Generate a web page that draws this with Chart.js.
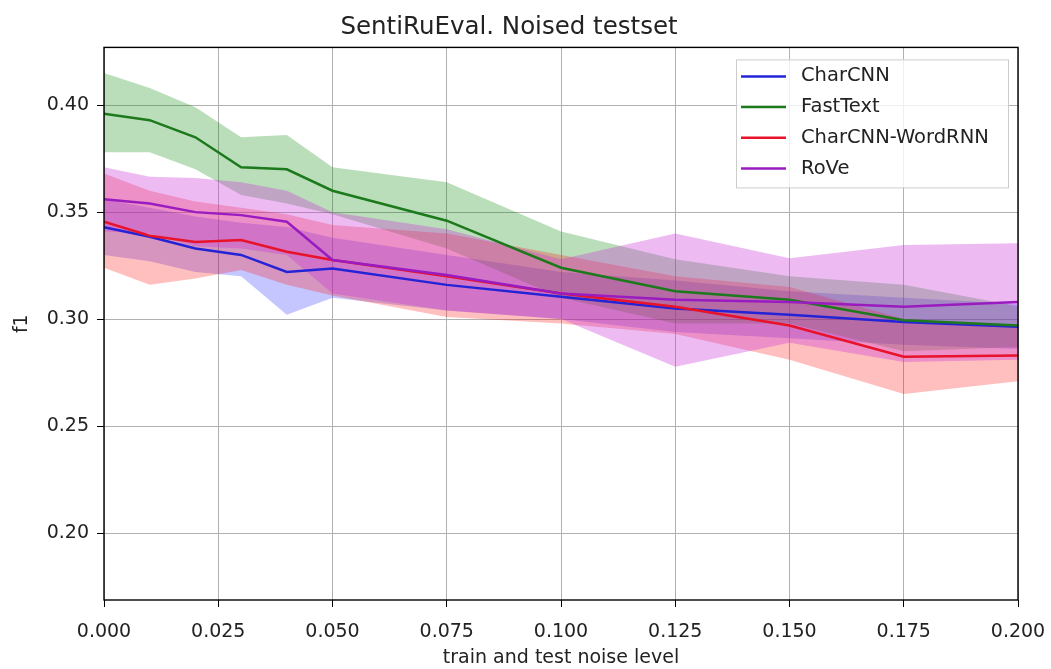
<!DOCTYPE html>
<html lang="en">
<head>
    <meta charset="UTF-8">
    <title>SentiRuEval. Noised testset</title>
    <script src="https://cdn.jsdelivr.net/npm/chart.js"></script>
    <style>
        html, body { margin: 0; padding: 0; background: #fff; }
        #wrap { width: 1051px; height: 669px; }
    </style>
</head>
<body>
    <div id="wrap"><canvas id="noiseChart"></canvas></div>

    <script>
        // noise level on x
        const noise = [0, 0.01, 0.02, 0.03, 0.04, 0.05, 0.075, 0.1, 0.125, 0.15, 0.175, 0.2];
        const xTicks = [0, 0.025, 0.05, 0.075, 0.1, 0.125, 0.15, 0.175, 0.2];
        const yTicks = [0.20, 0.25, 0.30, 0.35, 0.40];

        const charcnnMean  = [0.343, 0.3385, 0.333, 0.330, 0.322, 0.3237, 0.316, 0.3104, 0.305, 0.302, 0.2987, 0.2964];
        const charcnnUpper = [0.356, 0.352, 0.348, 0.345, 0.343, 0.338, 0.330, 0.322, 0.318, 0.313, 0.310, 0.307];
        const charcnnLower = [0.330, 0.327, 0.322, 0.320, 0.302, 0.310, 0.304, 0.300, 0.294, 0.291, 0.288, 0.286];

        const fasttextMean  = [0.396, 0.393, 0.385, 0.371, 0.370, 0.360, 0.346, 0.324, 0.313, 0.309, 0.2995, 0.297];
        const fasttextUpper = [0.415, 0.408, 0.399, 0.385, 0.386, 0.371, 0.364, 0.341, 0.328, 0.320, 0.316, 0.306];
        const fasttextLower = [0.378, 0.378, 0.370, 0.358, 0.354, 0.349, 0.333, 0.310, 0.298, 0.298, 0.285, 0.287];

        const wordrnnMean  = [0.3455, 0.339, 0.336, 0.337, 0.3315, 0.3276, 0.320, 0.312, 0.3058, 0.297, 0.2824, 0.283];
        const wordrnnUpper = [0.368, 0.360, 0.355, 0.352, 0.349, 0.344, 0.340, 0.330, 0.320, 0.315, 0.300, 0.297];
        const wordrnnLower = [0.324, 0.316, 0.319, 0.323, 0.316, 0.311, 0.301, 0.298, 0.293, 0.281, 0.265, 0.271];

        const roveMean  = [0.356, 0.354, 0.350, 0.3486, 0.3455, 0.3276, 0.3206, 0.312, 0.309, 0.308, 0.3058, 0.308];
        const roveUpper = [0.371, 0.3665, 0.366, 0.364, 0.360, 0.350, 0.342, 0.328, 0.340, 0.3285, 0.3346, 0.3355];
        const roveLower = [0.341, 0.340, 0.334, 0.333, 0.330, 0.312, 0.304, 0.300, 0.2777, 0.289, 0.280, 0.281];

        const series = [
            { name: 'CharCNN', mean: charcnnMean, upper: charcnnUpper, lower: charcnnLower, line: '#2424d6', band: 'rgba(40, 40, 255, 0.27)' },
            { name: 'FastText', mean: fasttextMean, upper: fasttextUpper, lower: fasttextLower, line: '#1c7a1c', band: 'rgba(0, 128, 0, 0.27)' },
            { name: 'CharCNN-WordRNN', mean: wordrnnMean, upper: wordrnnUpper, lower: wordrnnLower, line: '#e8122a', band: 'rgba(255, 20, 20, 0.27)' },
            { name: 'RoVe', mean: roveMean, upper: roveUpper, lower: roveLower, line: '#9a1cc0', band: 'rgba(200, 50, 215, 0.33)' }
        ];

        const pts = arr => arr.map((v, i) => ({ x: noise[i], y: v }));

        // bands first (under), later models on top; mean lines above all bands
        const datasets = [];
        series.forEach((s, i) => {
            datasets.push({ label: s.name + ' lo', data: pts(s.lower), borderWidth: 0, pointRadius: 0, fill: false, order: 20 - i });
            datasets.push({ label: s.name + ' hi', data: pts(s.upper), borderWidth: 0, pointRadius: 0, fill: '-1', backgroundColor: s.band, order: 20 - i });
        });
        series.forEach((s, i) => {
            datasets.push({ label: s.name, data: pts(s.mean), borderColor: s.line, borderWidth: 2.5, pointRadius: 0, fill: false, tension: 0, order: 5 - i });
        });

        // box round the plot area
        const frame = {
            id: 'frame',
            afterDatasetsDraw(chart) {
                const a = chart.chartArea, c = chart.ctx;
                c.save();
                c.strokeStyle = '#000';
                c.lineWidth = 1.4;
                c.strokeRect(a.left, a.top, a.right - a.left, a.bottom - a.top);
                c.restore();
            }
        };

        // matplotlib-like legend in upper right
        const boxLegend = {
            id: 'boxLegend',
            afterDraw(chart) {
                const a = chart.chartArea, c = chart.ctx;
                const w = 272, h = 128;
                const x0 = a.right - 10 - w, y0 = a.top + 12;
                c.save();
                c.fillStyle = 'rgba(255,255,255,0.8)';
                c.strokeStyle = '#cccccc';
                c.lineWidth = 1;
                c.fillRect(x0, y0, w, h);
                c.strokeRect(x0 + 0.5, y0 + 0.5, w, h);
                c.font = '19.5px "DejaVu Sans"';
                c.textBaseline = 'middle';
                series.forEach((s, i) => {
                    const y = y0 + 17 + i * 30.7;
                    c.strokeStyle = s.line;
                    c.lineWidth = 2.5;
                    c.beginPath();
                    c.moveTo(x0 + 5, y);
                    c.lineTo(x0 + 50, y);
                    c.stroke();
                    c.fillStyle = '#222';
                    c.fillText(s.name, x0 + 65, y);
                });
                c.restore();
            }
        };

        const ctx = document.getElementById('noiseChart').getContext('2d');
        new Chart(ctx, {
            type: 'line',
            data: { datasets: datasets },
            options: {
                responsive: true,
                maintainAspectRatio: false,
                animation: false,
                layout: { padding: { top: 0, right: 33, bottom: 0, left: 0 } },
                plugins: {
                    legend: { display: false },
                    tooltip: { enabled: false },
                    title: {
                        display: true,
                        text: 'SentiRuEval. Noised testset',
                        color: '#222',
                        font: { family: 'DejaVu Sans', size: 24.5, weight: 'normal' },
                        padding: { top: 13, bottom: 5 }
                    }
                },
                scales: {
                    x: {
                        type: 'linear',
                        min: 0,
                        max: 0.2,
                        afterBuildTicks: s => { s.ticks = xTicks.map(v => ({ value: v })); },
                        afterFit: s => { s.height = 69; s.paddingLeft = 0; s.paddingRight = 0; },
                        ticks: {
                            color: '#222',
                            font: { family: 'DejaVu Sans', size: 19 },
                            padding: 14,
                            maxRotation: 0,
                            callback: v => Number(v).toFixed(3)
                        },
                        grid: { color: '#b0b0b0', lineWidth: 1, tickColor: '#000', tickLength: 7 },
                        border: { display: false },
                        title: {
                            display: true,
                            text: 'train and test noise level',
                            color: '#222',
                            font: { family: 'DejaVu Sans', size: 19 },
                            padding: { top: 0, bottom: 0 }
                        }
                    },
                    y: {
                        min: 0.1687,
                        max: 0.427,
                        afterBuildTicks: s => { s.ticks = yTicks.map(v => ({ value: v })); },
                        afterFit: s => { s.width = 104; s.paddingTop = 0; s.paddingBottom = 0; },
                        ticks: {
                            color: '#222',
                            font: { family: 'DejaVu Sans', size: 19 },
                            padding: 8,
                            callback: v => Number(v).toFixed(2)
                        },
                        grid: { color: '#b0b0b0', lineWidth: 1, tickColor: '#000', tickLength: 7 },
                        border: { display: false },
                        title: {
                            display: true,
                            text: 'f1',
                            color: '#222',
                            font: { family: 'DejaVu Sans', size: 19 },
                            padding: { top: 11, bottom: 0 }
                        }
                    }
                }
            },
            plugins: [frame, boxLegend]
        });
    </script>
</body>
</html>
